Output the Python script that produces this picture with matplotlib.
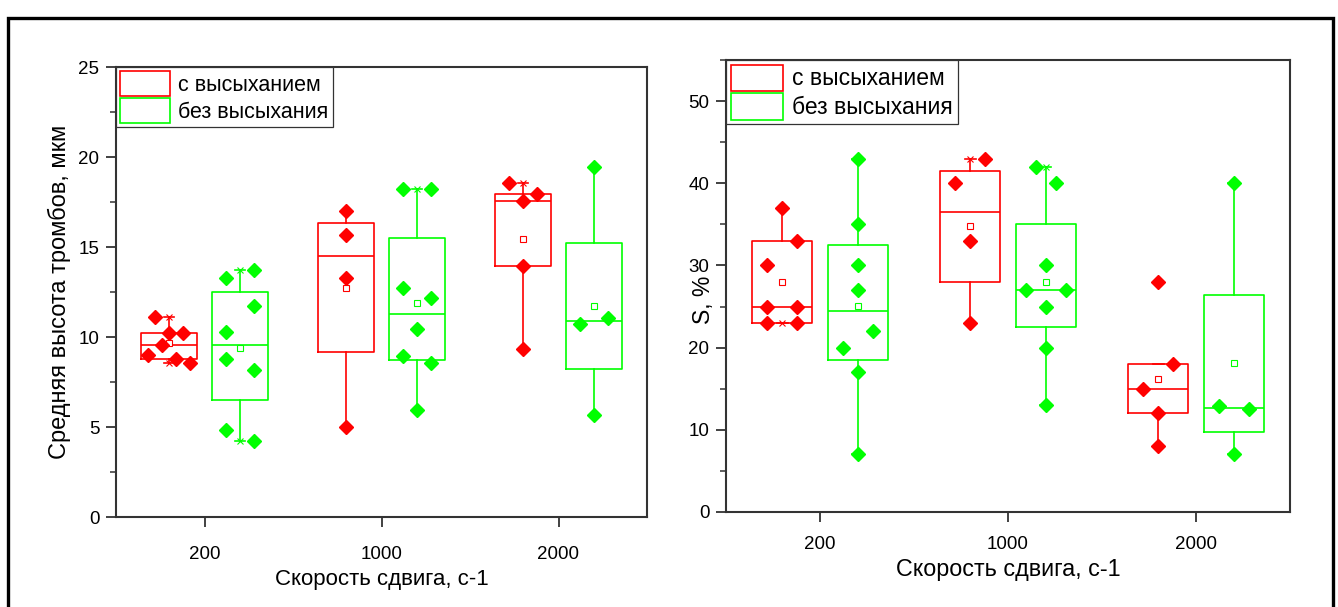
import numpy as np
import matplotlib
matplotlib.use("Agg")
from matplotlib import pyplot as plt
from matplotlib.patches import Patch, Rectangle
from matplotlib.ticker import MultipleLocator

plt.rcParams['font.family'] = ['Liberation Sans', 'DejaVu Sans']

shear_rates = ["200", "1000", "2000"]
series_names = ["с высыханием", "без высыхания"]

# average thrombus height, um (one list per shear rate)
height_dry = [
    [11.1, 10.25, 10.25, 9.55, 9.0, 8.8, 8.55],
    [17.0, 15.65, 13.3, 5.0],
    [18.55, 17.95, 17.55, 13.95, 9.35],
]
height_wet = [
    [13.3, 13.7, 11.75, 10.3, 8.8, 8.15, 4.85, 4.25],
    [18.25, 18.25, 12.75, 12.15, 10.45, 8.95, 8.55, 5.95],
    [19.45, 11.05, 10.75, 5.65],
]

# covered area S, %
area_dry = [
    [37, 33, 30, 25, 25, 23, 23],
    [43, 40, 33, 23],
    [28, 18, 15, 12, 8],
]
area_wet = [
    [43, 35, 30, 27, 22, 20, 17, 7],
    [42, 40, 30, 27, 27, 25, 20, 13],
    [40, 12.85, 12.5, 7],
]

# sideways spread of the points inside each box
height_dry_spread = [
    [-0.08, 0, 0.08, -0.04, -0.12, 0.04, 0.12],
    [0, 0, 0, 0],
    [-0.08, 0.08, 0, 0, 0],
]
height_wet_spread = [
    [-0.08, 0.08, 0.08, -0.08, -0.08, 0.08, -0.08, 0.08],
    [-0.08, 0.08, -0.08, 0.08, 0, -0.08, 0.08, 0],
    [0, 0.08, -0.08, 0],
]
area_dry_spread = [
    [0, 0.08, -0.08, -0.08, 0.08, -0.08, 0.08],
    [0.08, -0.08, 0, 0],
    [0, 0.08, -0.08, 0, 0],
]
area_wet_spread = [
    [0, 0, 0, 0, 0.08, -0.08, 0, 0],
    [-0.053, 0.053, 0, -0.106, 0.106, 0, 0, 0],
    [0, -0.08, 0.08, 0],
]

RED = '#FF0000'
GREEN = '#00FF00'
AXIS = '#333333'


def box_stats(values):
    v = np.asarray(values, dtype=float)
    q1, med, q3 = np.percentile(v, [25, 50, 75], method='averaged_inverted_cdf')
    iqr = q3 - q1
    lo = v[v >= q1 - 1.5 * iqr].min()
    hi = v[v <= q3 + 1.5 * iqr].max()
    return dict(med=med, q1=q1, q3=q3, whislo=lo, whishi=hi, mean=v.mean(), fliers=[])


def draw_group(ax, groups, spreads, shift, color):
    positions = np.arange(1, len(groups) + 1) + shift
    stats = [box_stats(g) for g in groups]
    line = dict(color=color, linewidth=1.2)
    ax.bxp(stats, positions=positions, widths=0.32, capwidths=0.055,
           showmeans=True, showfliers=False, manage_ticks=False,
           boxprops=line, whiskerprops=line, capprops=line, medianprops=line,
           meanprops=dict(marker='s', markersize=4, markerfacecolor='white',
                          markeredgecolor=color, markeredgewidth=0.8))
    for p, g, s in zip(positions, groups, spreads):
        # 1% / 99% marks
        ax.plot([p, p], [min(g), max(g)], 'x', color=color, ms=5, mew=0.8, zorder=3)
        ax.plot(p + np.asarray(s), g, 'D', color=color, ms=7, mec=color, zorder=4)


def style_axes(ax, ymax, major, minor, fs_tick, fs_label, fs_legend, xpad):
    ax.set_xlim(0.5, 3.5)
    ax.set_ylim(0, ymax)
    ax.set_xticks([1, 2, 3], shear_rates)
    ax.yaxis.set_major_locator(MultipleLocator(major))
    ax.yaxis.set_minor_locator(MultipleLocator(minor))
    ax.tick_params(axis='both', which='major', direction='out', length=7,
                   width=1.3, color=AXIS, labelsize=fs_tick, pad=5)
    ax.tick_params(axis='x', pad=xpad)
    ax.tick_params(axis='y', which='minor', direction='out', length=4,
                   width=1.1, color=AXIS)
    for sp in ax.spines.values():
        sp.set_color(AXIS)
        sp.set_linewidth(1.5)
    ax.set_xlabel("Скорость сдвига, с-1", fontsize=fs_label, labelpad=4)
    handles = [Patch(facecolor='white', edgecolor=RED, linewidth=1.2),
               Patch(facecolor='white', edgecolor=GREEN, linewidth=1.2)]
    leg = ax.legend(handles, series_names, loc='upper left', bbox_to_anchor=(0, 1),
                    borderaxespad=0, fancybox=False, edgecolor=AXIS, framealpha=1,
                    fontsize=fs_legend, handlelength=2.3, handleheight=1.4,
                    handletextpad=0.4, labelspacing=0.1, borderpad=0.2)
    leg.get_frame().set_linewidth(0.9)


fig = plt.figure(figsize=(13.38, 6.07), dpi=100)

ax1 = fig.add_axes([116 / 1338, 90 / 607, 531 / 1338, 450 / 607])
draw_group(ax1, height_dry, height_dry_spread, -0.2, RED)
draw_group(ax1, height_wet, height_wet_spread, 0.2, GREEN)
style_axes(ax1, 25, 5, 2.5, 13.5, 16, 15.5, 14)
ax1.set_ylabel("Средняя высота тромбов, мкм", fontsize=17)
ax1.yaxis.set_label_coords(-0.085, 0.5)

ax2 = fig.add_axes([726 / 1338, 95 / 607, 564 / 1338, 452 / 607])
draw_group(ax2, area_dry, area_dry_spread, -0.2, RED)
draw_group(ax2, area_wet, area_wet_spread, 0.2, GREEN)
style_axes(ax2, 55, 10, 5, 13.5, 16.8, 16.5, 10)
ax2.set_ylabel("S, %", fontsize=16.5)
ax2.yaxis.set_label_coords(-0.02, 0.47)

# frame around the whole figure
fig.patches.append(Rectangle((8 / 1338, -0.05), 1325 / 1338, 1.05 - 18 / 607,
                             transform=fig.transFigure, fill=False,
                             edgecolor='black', linewidth=2.4))

fig.savefig("out.png", dpi=100)
